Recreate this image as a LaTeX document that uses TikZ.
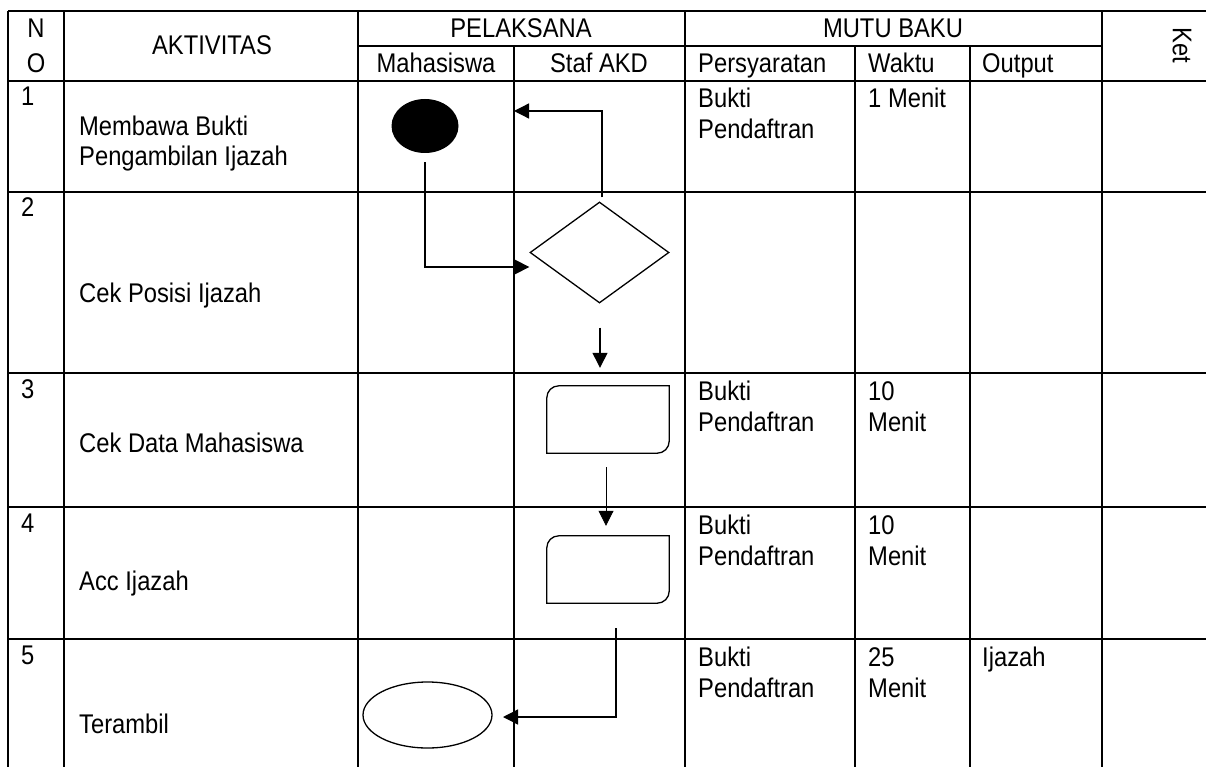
\documentclass[tikz,border=0pt]{standalone}
\usepackage{fontspec}
\setmainfont{Liberation Sans}[FakeStretch=0.88]
\usetikzlibrary{shapes.geometric,arrows.meta,calc}
\begin{document}
\begin{tikzpicture}[x=1pt,y=-1pt,
  tbl/.style={line width=1.6pt},
  txt/.style={inner sep=0pt, anchor=base west, font=\fontsize{27}{31}\selectfont},
  ctxt/.style={txt, anchor=base},
  flow/.style={line width=1.3pt},
  arr/.style={flow, -{Triangle[length=15pt,width=15pt]}},
  thinarr/.style={line width=0.8pt, -{Triangle[length=15pt,width=15pt]}},
  boxnode/.style={minimum width=122pt, minimum height=67pt, inner sep=0pt}
]
\useasboundingbox (0,0) rectangle (1206,767);
\fill[white] (0,0) rectangle (1206,767);
% table lines
\draw[tbl] (8,11) -- (1206,11);
\draw[tbl] (358,46) -- (1102,46);
\foreach \yy in {81,192,373,507,639} { \draw[tbl] (8,\yy) -- (1206,\yy); }
\foreach \xx in {8,64,358,685,1102} { \draw[tbl] (\xx,11) -- (\xx,767); }
\foreach \xx in {514,855,970} { \draw[tbl] (\xx,46) -- (\xx,767); }
% header text
\node[ctxt] (hn) at (36,38) {N};
\node[ctxt] (ho) at (36,73) {O};
\node[ctxt] (hakt) at (212,55) {AKTIVITAS};
\node[ctxt] (hpel) at (521,38) {PELAKSANA};
\node[ctxt] (hmutu) at (893,38) {MUTU BAKU};
\node[ctxt] (hmhs) at (436,73) {Mahasiswa};
\node[ctxt] (hstaf) at (599,73) {Staf AKD};
\node[txt] (hpers) at (698,73) {Persyaratan};
\node[txt] (hwak) at (868,73) {Waktu};
\node[txt] (hout) at (982,73) {Output};
\node[txt, anchor=center, rotate=-90] (hket) at (1182,45) {Ket};
% row 1
\node[txt] (n1) at (21,106) {1};
\node[txt] (a1a) at (79,136) {Membawa Bukti};
\node[txt] (a1b) at (79,166) {Pengambilan Ijazah};
\node[txt] (p1a) at (698,108) {Bukti};
\node[txt] (p1b) at (698,139) {Pendaftran};
\node[txt] (w1) at (868,108) {1 Menit};
% row 2
\node[txt] (n2) at (21,217) {2};
\node[txt] (a2) at (79,302) {Cek Posisi Ijazah};
% row 3
\node[txt] (n3) at (21,398) {3};
\node[txt] (a3) at (79,452) {Cek Data Mahasiswa};
\node[txt] (p3a) at (698,400) {Bukti};
\node[txt] (p3b) at (698,431) {Pendaftran};
\node[txt] (w3a) at (868,400) {10};
\node[txt] (w3b) at (868,431) {Menit};
% row 4
\node[txt] (n4) at (21,532) {4};
\node[txt] (a4) at (79,590) {Acc Ijazah};
\node[txt] (p4a) at (698,534) {Bukti};
\node[txt] (p4b) at (698,565) {Pendaftran};
\node[txt] (w4a) at (868,534) {10};
\node[txt] (w4b) at (868,565) {Menit};
% row 5
\node[txt] (n5) at (21,664) {5};
\node[txt] (a5) at (79,733) {Terambil};
\node[txt] (p5a) at (698,666) {Bukti};
\node[txt] (p5b) at (698,697) {Pendaftran};
\node[txt] (w5a) at (868,666) {25};
\node[txt] (w5b) at (868,697) {Menit};
\node[txt] (o5) at (982,666) {Ijazah};
% flow shapes
\node[ellipse, fill=black, minimum width=67pt, minimum height=54pt, inner sep=0pt] (start) at (425,126) {};
\node[diamond, draw, flow, minimum width=139pt, minimum height=101pt, inner sep=0pt] (dec) at (599.5,252.5) {};
\node[boxnode] (pa) at (608,419.5) {};
\node[boxnode] (pb) at (608,569.5) {};
\node[ellipse, draw, flow, minimum width=129pt, minimum height=66pt, inner sep=0pt] (fin) at (427.5,715) {};
\foreach \b in {pa,pb} {
  \draw[flow] (\b.north east) -- ($(\b.south east)+(0,-12)$) arc[start angle=0,end angle=-90,radius=12pt]
    -- (\b.south west) -- ($(\b.north west)+(0,12)$) arc[start angle=180,end angle=90,radius=12pt] -- cycle;
}
% connectors
\coordinate (k1) at (0,267);
\coordinate (k2) at (514,111);
\coordinate (k5) at (503,717);
\draw[arr, shorten <=9pt] (start.south) |- (k1 -| dec.west);
\draw[arr] ($(dec.north)+(2.5,-4)$) |- (k2);
\draw[arr] ($(dec.south)+(0.5,24)$) -- ($(pa.north)+(-8,-18)$);
\draw[thinarr] ($(pa.south)+(-2,14)$) -- ($(pb.north)+(-2,-10)$);
\draw[arr] ($(pb.south)+(8,25)$) |- (k5);
\end{tikzpicture}
\end{document}
